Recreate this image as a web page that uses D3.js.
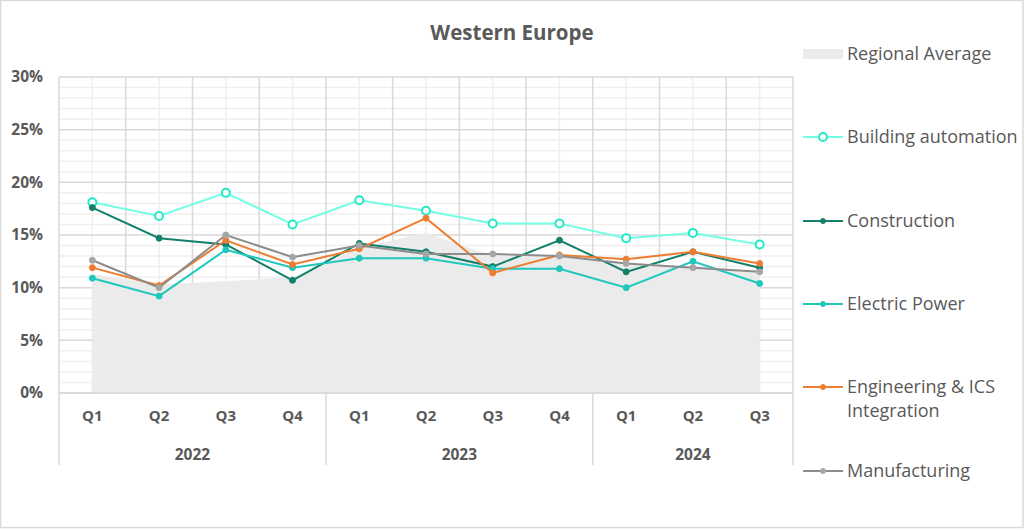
<!DOCTYPE html>
<html>
<head>
<meta charset="utf-8">
<script src="https://cdn.jsdelivr.net/npm/d3@7/dist/d3.min.js"></script>
<style>
  html, body { margin: 0; padding: 0; background: #fff; }
  svg { display: block; }
  text { font-family: "Open Sans", Lato, sans-serif; fill: #595959; }
</style>
</head>
<body>
<svg id="chart" width="1024" height="529"></svg>
<script>
// ---- Data ----
const quarters = ["Q1","Q2","Q3","Q4","Q1","Q2","Q3","Q4","Q1","Q2","Q3"];
const years = ["2022","2023","2024"];
const yearSpans = [4, 4, 3];
const yTicks = [0, 0.05, 0.10, 0.15, 0.20, 0.25, 0.30];

const regionalAverage = [0.113,0.103,0.106,0.110,0.138,0.152,0.130,0.130,0.123,0.120,0.116];
const buildingAutomation = [0.181,0.168,0.190,0.160,0.183,0.173,0.161,0.161,0.147,0.152,0.141];
const construction = [0.176,0.147,0.141,0.107,0.142,0.134,0.120,0.145,0.115,0.134,0.119];
const electricPower = [0.109,0.092,0.136,0.119,0.128,0.128,0.118,0.118,0.100,0.125,0.104];
const engineering = [0.119,0.102,0.145,0.122,0.137,0.166,0.114,0.131,0.127,0.134,0.123];
const manufacturing = [0.126,0.100,0.150,0.129,0.140,0.132,0.132,0.130,0.123,0.119,0.115];

const seriesNames = ["Building automation","Construction","Electric Power","Engineering & ICS Integration","Manufacturing"];
const seriesValues = [buildingAutomation, construction, electricPower, engineering, manufacturing];
const seriesColors = ["#72FFE3","#12806A","#1EC8BC","#ED7D31","#8C8C8C"];
const markerFill = ["#FFFFFF","#12806A","#1EC8BC","#ED7D31","#A6A6A6"];
const markerStroke = ["#22EAC6","#12806A","#1EC8BC","#ED7D31","#A6A6A6"];

// ---- Layout ----
const svg = d3.select("#chart");
const W = 1024, H = 529;
const plot = { left: 59, right: 793, top: 77, bottom: 393 };
const FONT = "'Open Sans', Lato, sans-serif";

svg.append("rect").attr("x", 0.5).attr("y", 0.5).attr("width", W - 1.5).attr("height", H - 2)
  .attr("fill", "#fff").attr("stroke", "#D9D9D9").attr("stroke-width", 1.5);

const x = d3.scaleBand().domain(d3.range(quarters.length)).range([plot.left, plot.right]).padding(0);
const cx = i => x(i) + x.bandwidth() / 2;
const y = d3.scaleLinear().domain([0, 0.30]).range([plot.bottom, plot.top]);

// Title
svg.append("text").attr("x", 512).attr("y", 40).attr("text-anchor", "middle")
  .style("font-size", "20.5px").style("font-weight", "bold").text("Western Europe");

// Grid: minor horizontal (1%)
const g = svg.append("g");
const minorY = d3.range(0, 31).map(d => d / 100).filter(d => Math.round(d * 100) % 5 !== 0);
g.selectAll(".minorH").data(minorY).enter().append("line")
  .attr("x1", plot.left).attr("x2", plot.right)
  .attr("y1", d => y(d)).attr("y2", d => y(d))
  .attr("stroke", "#EFEFEF").attr("stroke-width", 1.5);
// minor vertical at category centres
g.selectAll(".minorV").data(d3.range(quarters.length)).enter().append("line")
  .attr("x1", d => cx(d)).attr("x2", d => cx(d))
  .attr("y1", plot.top).attr("y2", plot.bottom)
  .attr("stroke", "#EFEFEF").attr("stroke-width", 1.5);
// major vertical at category boundaries
g.selectAll(".majorV").data(d3.range(quarters.length + 1)).enter().append("line")
  .attr("x1", d => plot.left + d * x.bandwidth()).attr("x2", d => plot.left + d * x.bandwidth())
  .attr("y1", plot.top).attr("y2", plot.bottom)
  .attr("stroke", "#D9D9D9").attr("stroke-width", 1.5);
// major horizontal every 5%
g.selectAll(".majorH").data(yTicks).enter().append("line")
  .attr("x1", plot.left).attr("x2", plot.right)
  .attr("y1", d => y(d)).attr("y2", d => y(d))
  .attr("stroke", "#D9D9D9").attr("stroke-width", 1.5);

// Area (regional average)
const area = d3.area().x((d, i) => cx(i)).y0(y(0)).y1(d => y(d));
svg.append("path").datum(regionalAverage).attr("d", area).attr("fill", "#EBEBEB");

// baseline
svg.append("line").attr("x1", plot.left).attr("x2", plot.right)
  .attr("y1", plot.bottom).attr("y2", plot.bottom)
  .attr("stroke", "#D9D9D9").attr("stroke-width", 1.5);

// Y axis labels
const yAxis = d3.axisLeft(y).tickValues(yTicks).tickFormat(d3.format(".0%")).tickSize(0).tickPadding(0);
const ya = svg.append("g").attr("transform", "translate(43,0)").call(yAxis);
ya.select(".domain").remove();
ya.selectAll("text").style("font-family", FONT).style("font-size", "15.5px")
  .style("font-weight", "bold").attr("fill", "#595959");

// X axis: quarter labels
const xAxis = d3.axisBottom(x).tickFormat(i => quarters[i]).tickSize(0).tickPadding(0);
const xa = svg.append("g").attr("transform", `translate(0,${plot.bottom + 17})`).call(xAxis);
xa.select(".domain").remove();
xa.selectAll("text").style("font-family", FONT).style("font-size", "15px")
  .style("font-weight", "bold").attr("fill", "#595959");

// Year groups
let start = 0;
const yearPos = yearSpans.map((s, k) => { const p = { year: years[k], s: start, e: start + s }; start += s; return p; });
const seps = [0].concat(yearPos.map(p => p.e));
svg.selectAll(".ysep").data(seps).enter().append("line")
  .attr("x1", d => plot.left + d * x.bandwidth()).attr("x2", d => plot.left + d * x.bandwidth())
  .attr("y1", plot.bottom).attr("y2", 465)
  .attr("stroke", "#D9D9D9").attr("stroke-width", 1.5);
svg.selectAll(".ylab").data(yearPos).enter().append("text")
  .attr("x", d => plot.left + (d.s + d.e) / 2 * x.bandwidth())
  .attr("y", 460).attr("text-anchor", "middle")
  .style("font-size", "15.5px").style("font-weight", "bold").text(d => d.year);

// Lines
const line = d3.line().x((d, i) => cx(i)).y(d => y(d));
seriesValues.forEach((vals, k) => {
  const sg = svg.append("g");
  sg.append("path").datum(vals).attr("d", line).attr("fill", "none")
    .attr("stroke", seriesColors[k]).attr("stroke-width", 2);
  sg.selectAll("circle").data(vals).enter().append("circle")
    .attr("cx", (d, i) => cx(i)).attr("cy", d => y(d))
    .attr("r", k === 0 ? 4 : 3)
    .attr("fill", markerFill[k]).attr("stroke", markerStroke[k])
    .attr("stroke-width", k === 0 ? 2 : 1);
});

// Legend
const lg = svg.append("g");
lg.append("rect").attr("x", 803).attr("y", 49).attr("width", 40).attr("height", 10).attr("fill", "#EBEBEB");
lg.append("text").attr("x", 847).attr("y", 60).style("font-size", "18px").text("Regional Average");
const legendY = [137, 221, 304, 387, 471];
seriesNames.forEach((name, k) => {
  const ly = legendY[k];
  lg.append("line").attr("x1", 803).attr("x2", 843).attr("y1", ly).attr("y2", ly)
    .attr("stroke", seriesColors[k]).attr("stroke-width", 2);
  lg.append("circle").attr("cx", 823).attr("cy", ly).attr("r", k === 0 ? 4 : 2.5)
    .attr("fill", markerFill[k]).attr("stroke", markerStroke[k]).attr("stroke-width", k === 0 ? 2 : 1);
  const t = lg.append("text").attr("x", 847).attr("y", ly + 6).style("font-size", "18px");
  if (name === "Engineering & ICS Integration") {
    t.append("tspan").attr("x", 847).text("Engineering & ICS");
    t.append("tspan").attr("x", 847).attr("dy", 24).text("Integration");
  } else {
    t.text(name);
  }
});
</script>
</body>
</html>
